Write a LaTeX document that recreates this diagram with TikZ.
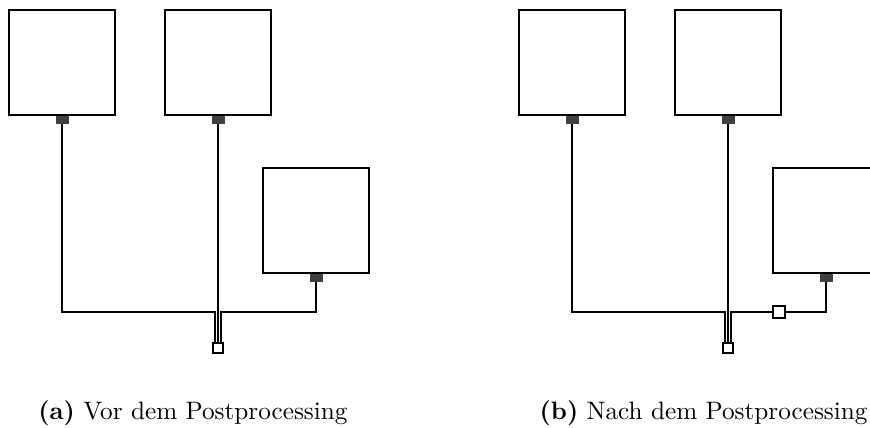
\documentclass[tikz,border=0pt]{standalone}
\begin{document}
\begin{tikzpicture}[x=1pt,y=-1pt,
  box/.style={draw, line width=2pt, minimum width=106pt, minimum height=105.5pt, inner sep=0pt, fill=white},
  port/.style={fill=black!75, minimum width=13pt, minimum height=8pt, inner sep=0pt, outer sep=0pt},
  sink/.style={draw, line width=1.8pt, fill=white, minimum size=10.5pt, inner sep=0pt},
  midsq/.style={draw, line width=1.8pt, fill=white, minimum size=12.5pt, inner sep=0pt},
  wire/.style={line width=1.8pt, line join=miter},
  capt/.style={anchor=base east, scale=2.52, inner sep=0pt}]
\useasboundingbox (0,0) rectangle (870,428);
% panel (a)
\node[box] (a1) at (62,62.5) {};
\node[box] (a2) at (218,62.5) {};
\node[box] (a3) at (316,220.5) {};
\node[port, anchor=north] (pa1) at (a1.south) {};
\node[port, anchor=north] (pa2) at (a2.south) {};
\node[port, anchor=north] (pa3) at (a3.south) {};
\node[sink] (sa) at (218,348) {};
\coordinate (ja) at (218,312);
\draw[wire] (pa1.south) |- ([xshift=-2.7pt]ja) -- ([xshift=-2.7pt]sa.north);
\draw[wire] (pa2.south) -- (sa.north);
\draw[wire] (pa3.south) |- ([xshift=2.7pt]ja) -- ([xshift=2.7pt]sa.north);
% panel (b)
\begin{scope}[xshift=510pt]
\node[box] (b1) at (62,62.5) {};
\node[box] (b2) at (218,62.5) {};
\node[box] (b3) at (316,220.5) {};
\node[port, anchor=north] (pb1) at (b1.south) {};
\node[port, anchor=north] (pb2) at (b2.south) {};
\node[port, anchor=north] (pb3) at (b3.south) {};
\node[sink] (sb) at (218,348) {};
\node[midsq] (m) at (269,312) {};
\coordinate (jb) at (218,312);
\draw[wire] (pb1.south) |- ([xshift=-2.7pt]jb) -- ([xshift=-2.7pt]sb.north);
\draw[wire] (pb2.south) -- (sb.north);
\draw[wire] (pb3.south) |- (m.east);
\draw[wire] (m.west) -- ([xshift=2.7pt]jb) -- ([xshift=2.7pt]sb.north);
\end{scope}
% captions
\node[capt] (ca) at (348,419) {\textbf{(a)} Vor dem Postprocessing};
\node[capt] (cb) at (868,419) {\textbf{(b)} Nach dem Postprocessing};
\end{tikzpicture}
\end{document}
